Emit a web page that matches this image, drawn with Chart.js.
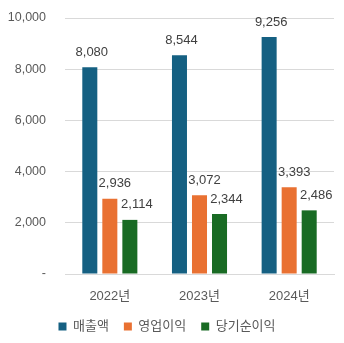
<!DOCTYPE html>
<html>
<head>
<meta charset="utf-8">
<script src="https://cdn.jsdelivr.net/npm/chart.js@4"></script>
<style>
  html, body { margin: 0; padding: 0; background: #fff; }
  #wrap { width: 344px; height: 343px; }
</style>
</head>
<body>
<div id="wrap"><canvas id="chart" width="344" height="343"></canvas></div>
<script>
const years = ['2022년', '2023년', '2024년'];
const seriesNames = ['매출액', '영업이익', '당기순이익'];
const revenue = [8080, 8544, 9256];
const operatingProfit = [2936, 3072, 3393];
const netIncome = [2114, 2344, 2486];

const colors = ['#156082', '#E97132', '#196B24'];
const FONT = '"Liberation Sans", Arial, "Noto Sans CJK KR", sans-serif';

// labels above bars, nudged right a bit like the excel original
const labelShift = [2, 5, 7];
const barLabels = {
  id: 'barLabels',
  afterDatasetsDraw(chart) {
    const ctx = chart.ctx;
    ctx.save();
    ctx.font = '13px ' + FONT;
    ctx.fillStyle = '#404040';
    ctx.textAlign = 'center';
    ctx.textBaseline = 'middle';
    chart.data.datasets.forEach((ds, i) => {
      chart.getDatasetMeta(i).data.forEach((bar, j) => {
        ctx.fillText(ds.data[j].toLocaleString('en-US'), bar.x + labelShift[i], bar.y - 15);
      });
    });
    ctx.restore();
  }
};

new Chart(document.getElementById('chart'), {
  type: 'bar',
  data: {
    labels: years,
    datasets: [
      { label: seriesNames[0], data: revenue, backgroundColor: colors[0] },
      { label: seriesNames[1], data: operatingProfit, backgroundColor: colors[1] },
      { label: seriesNames[2], data: netIncome, backgroundColor: colors[2] },
    ],
  },
  options: {
    responsive: false,
    animation: false,
    layout: { padding: { top: 18, right: 10, left: 0, bottom: 0 } },
    datasets: { bar: { categoryPercentage: 0.67, barPercentage: 0.75 } },
    scales: {
      x: {
        afterFit: (scale) => { scale.height = 31; },
        grid: { display: false, drawTicks: false },
        border: { color: '#d9d9d9' },
        ticks: { color: '#595959', font: { family: FONT, size: 13 }, padding: 15 },
      },
      y: {
        min: 0,
        max: 10000,
        afterFit: (scale) => {
          scale.width = 65;
          scale.paddingTop = 0;
          scale.paddingBottom = 0;
        },
        grid: { color: '#d9d9d9', drawTicks: false },
        border: { display: false },
        ticks: {
          stepSize: 2000,
          padding: 19,
          color: '#595959',
          font: { family: FONT, size: 12.5 },
          callback: (v) => (v === 0 ? '-' : v.toLocaleString('en-US')),
        },
      },
    },
    plugins: {
      tooltip: { enabled: false },
      legend: {
        position: 'bottom',
        labels: {
          boxWidth: 8,
          boxHeight: 8,
          padding: 15,
          color: '#595959',
          font: { family: FONT, size: 13 },
        },
      },
    },
  },
  plugins: [barLabels],
});
</script>
</body>
</html>
